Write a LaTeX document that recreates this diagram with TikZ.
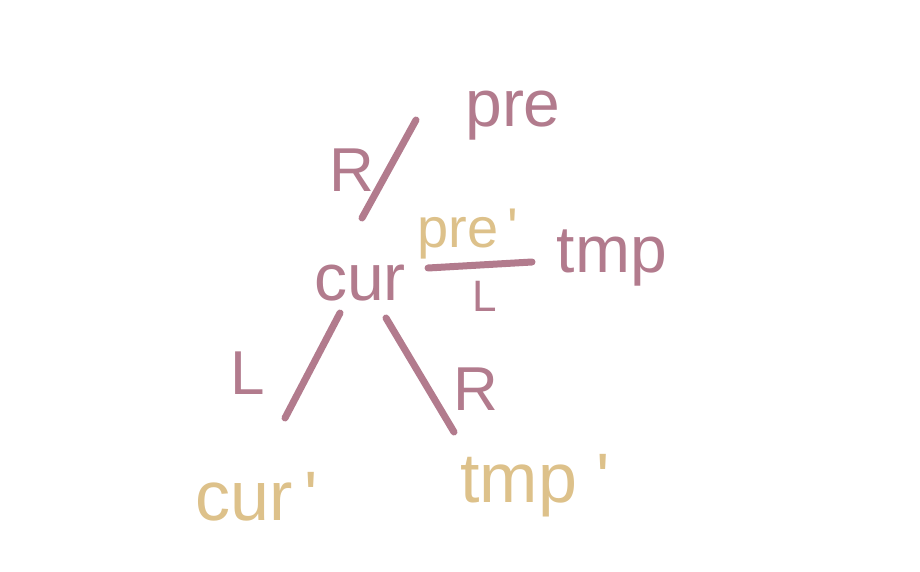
\documentclass[tikz,border=0pt]{standalone}
\usepackage{fontspec}
\setmainfont{Liberation Sans}
\usetikzlibrary{positioning}
\definecolor{mauve}{HTML}{B27B8D}
\definecolor{sand}{HTML}{DDC18A}

\tikzset{
  word/.style={text=mauve, inner sep=0pt, anchor=base, font=\fontsize{66}{66}\selectfont},
  newword/.style={text=sand, inner sep=0pt, anchor=base, font=\fontsize{70}{70}\selectfont},
  side/.style={text=mauve, inner sep=0pt, anchor=base, font=\fontsize{62}{62}\selectfont},
  stroke/.style={draw=mauve, line width=7pt, line cap=round}
}

\begin{document}
\begin{tikzpicture}[x=1pt, y=-1pt]
    \useasboundingbox (0,0) rectangle (920,572);
    % the words
    \node[word] (pre) at (513,127) {pre};
    \node[word] (cur) at (360,300) {cur};
    \node[word] (tmp) at (612,272) {tmp};
    \node[newword, font=\fontsize{56}{56}\selectfont] (prenew) at (468,247) {pre\,\textquotesingle};
    \node[newword] (curnew) at (257,520) {cur\,\textquotesingle};
    \node[newword] (tmpnew) at (535,502) {tmp\;\textquotesingle};
    % line ends
    \coordinate (up-a) at (362,218);
    \coordinate (up-b) at (416,120);
    \coordinate (mid-a) at (428,268);
    \coordinate (mid-b) at (532,262);
    \coordinate (left-a) at (340,313);
    \coordinate (left-b) at (285,418);
    \coordinate (right-a) at (386,318);
    \coordinate (right-b) at (454,432);
    % the links
    \draw[stroke] (up-a) -- (up-b);
    \draw[stroke] (mid-a) -- (mid-b);
    \draw[stroke] (left-a) -- (left-b);
    \draw[stroke] (right-a) -- (right-b);
    \node[side] (upside) at (352,191) {R};
    \node[side, font=\fontsize{44}{44}\selectfont] (midside) at (485,311) {L};
    \node[side] (leftside) at (248,394) {L};
    \node[side] (rightside) at (476,410) {R};
  \end{tikzpicture}
\end{document}
